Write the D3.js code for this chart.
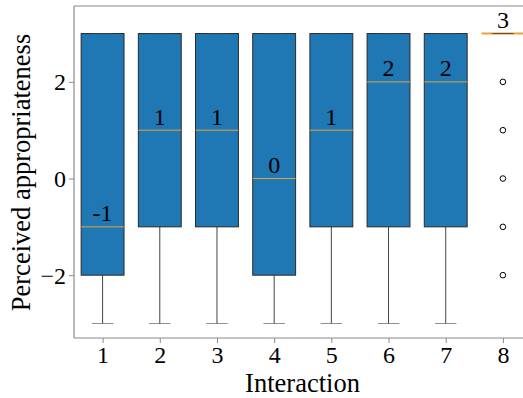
<!DOCTYPE html>
<html>
<head>
<meta charset="utf-8">
<script src="https://cdn.jsdelivr.net/npm/d3@7"></script>
<style>
  html, body { margin: 0; padding: 0; background: #fff; }
  svg { display: block; }
  text { font-family: "Liberation Serif", "Times New Roman", serif; fill: #000; }
</style>
</head>
<body>
<div id="chart"></div>
<script>
const categories = [1, 2, 3, 4, 5, 6, 7, 8];
const whiskerLow = [-3, -3, -3, -3, -3, -3, -3, 3];
const q1 = [-2, -1, -1, -2, -1, -1, -1, 3];
const medians = [-1, 1, 1, 0, 1, 2, 2, 3];
const q3 = [3, 3, 3, 3, 3, 3, 3, 3];
const whiskerHigh = [3, 3, 3, 3, 3, 3, 3, 3];
const outliers = [[], [], [], [], [], [], [], [2, 1, 0, -1, -2]];
const medianLabels = ["-1", "1", "1", "0", "1", "2", "2", "3"];
const yTicks = [-2, 0, 2];

const W = 523, H = 398;
const svg = d3.select("#chart").append("svg").attr("width", W).attr("height", H);

const x = d3.scaleLinear().domain([0.5, 8.5]).range([74, 531.5]);
const y = d3.scaleLinear().domain([-3.3, 3.57]).range([338, 6]);

const boxW = x(1.375) - x(1);   // half width
const capW = boxW / 2;

const data = categories.map((c, i) => ({
  c, lo: whiskerLow[i], q1: q1[i], med: medians[i], q3: q3[i], hi: whiskerHigh[i],
  out: outliers[i], label: medianLabels[i]
}));

const g = svg.append("g");

// whiskers
g.selectAll(".wl").data(data).join("line")
  .attr("x1", d => x(d.c)).attr("x2", d => x(d.c))
  .attr("y1", d => y(d.lo)).attr("y2", d => y(d.q1))
  .attr("stroke", "#444").attr("stroke-width", 1);
g.selectAll(".wh").data(data).join("line")
  .attr("x1", d => x(d.c)).attr("x2", d => x(d.c))
  .attr("y1", d => y(d.q3)).attr("y2", d => y(d.hi))
  .attr("stroke", "#444").attr("stroke-width", 1);

// boxes
g.selectAll(".box").data(data).join("rect")
  .attr("x", d => x(d.c) - boxW)
  .attr("width", 2 * boxW)
  .attr("y", d => y(d.q3))
  .attr("height", d => Math.max(0, y(d.q1) - y(d.q3)))
  .attr("fill", "#1f77b4")
  .attr("stroke", d => d.q1 === d.q3 ? "none" : "#2a2a2a")
  .attr("stroke-width", 1);

// medians
g.selectAll(".med").data(data).join("line")
  .attr("x1", d => x(d.c) - boxW).attr("x2", d => x(d.c) + boxW)
  .attr("y1", d => y(d.med)).attr("y2", d => y(d.med))
  .attr("stroke", "#e8a23a").attr("stroke-width", d => d.q1 === d.q3 ? 2 : 1);

// caps
["lo", "hi"].forEach(k => {
  g.selectAll(".cap" + k).data(data).join("line")
    .attr("x1", d => x(d.c) - capW).attr("x2", d => x(d.c) + capW)
    .attr("y1", d => y(d[k])).attr("y2", d => y(d[k]))
    .attr("stroke", "#444").attr("stroke-opacity", 0.6).attr("stroke-width", 1);
});

// outliers
data.forEach(d => {
  g.selectAll(null).data(d.out).join("circle")
    .attr("cx", x(d.c)).attr("cy", v => y(v)).attr("r", 2.8)
    .attr("fill", "none").attr("stroke", "#000").attr("stroke-width", 1);
});

// median labels
g.selectAll(".ml").data(data).join("text")
  .attr("x", d => x(d.c)).attr("y", d => y(d.med) - 5.5)
  .attr("text-anchor", "middle").attr("font-size", 24)
  .text(d => d.label);

// spines
const spine = "#8a8a8a";
svg.append("line").attr("x1", 74).attr("x2", 74).attr("y1", 6).attr("y2", 338).attr("stroke", spine).attr("stroke-width", 1.2);
svg.append("line").attr("x1", 74).attr("x2", W).attr("y1", 338).attr("y2", 338).attr("stroke", spine).attr("stroke-width", 1.2);
svg.append("line").attr("x1", 74).attr("x2", W).attr("y1", 6).attr("y2", 6).attr("stroke", spine).attr("stroke-width", 1.2);

// x axis
const xAxis = svg.append("g").attr("transform", "translate(0,338)")
  .call(d3.axisBottom(x).tickValues(categories).tickSize(5).tickPadding(3).tickFormat(d3.format("d")));
xAxis.select(".domain").remove();
xAxis.selectAll(".tick line").attr("stroke", spine);
xAxis.selectAll(".tick text").attr("font-size", 24).attr("font-family", "Liberation Serif").attr("fill", "#000")
  .attr("dy", null).attr("y", 25);

// y axis
const yAxis = svg.append("g").attr("transform", "translate(74,0)")
  .call(d3.axisLeft(y).tickValues(yTicks).tickSize(5).tickPadding(3)
    .tickFormat(d => d < 0 ? "\u2212" + Math.abs(d) : String(d)));
yAxis.select(".domain").remove();
yAxis.selectAll(".tick line").attr("stroke", spine);
yAxis.selectAll(".tick text").attr("font-size", 24).attr("font-family", "Liberation Serif").attr("fill", "#000")
  .attr("dy", "0.33em");

// axis labels
svg.append("text").attr("x", 302.5).attr("y", 391.5).attr("text-anchor", "middle")
  .attr("font-size", 26.5).text("Interaction");
svg.append("text").attr("transform", "translate(29.5,172.5) rotate(-90)").attr("text-anchor", "middle")
  .attr("font-size", 26.5).text("Perceived appropriateness");
</script>
</body>
</html>
